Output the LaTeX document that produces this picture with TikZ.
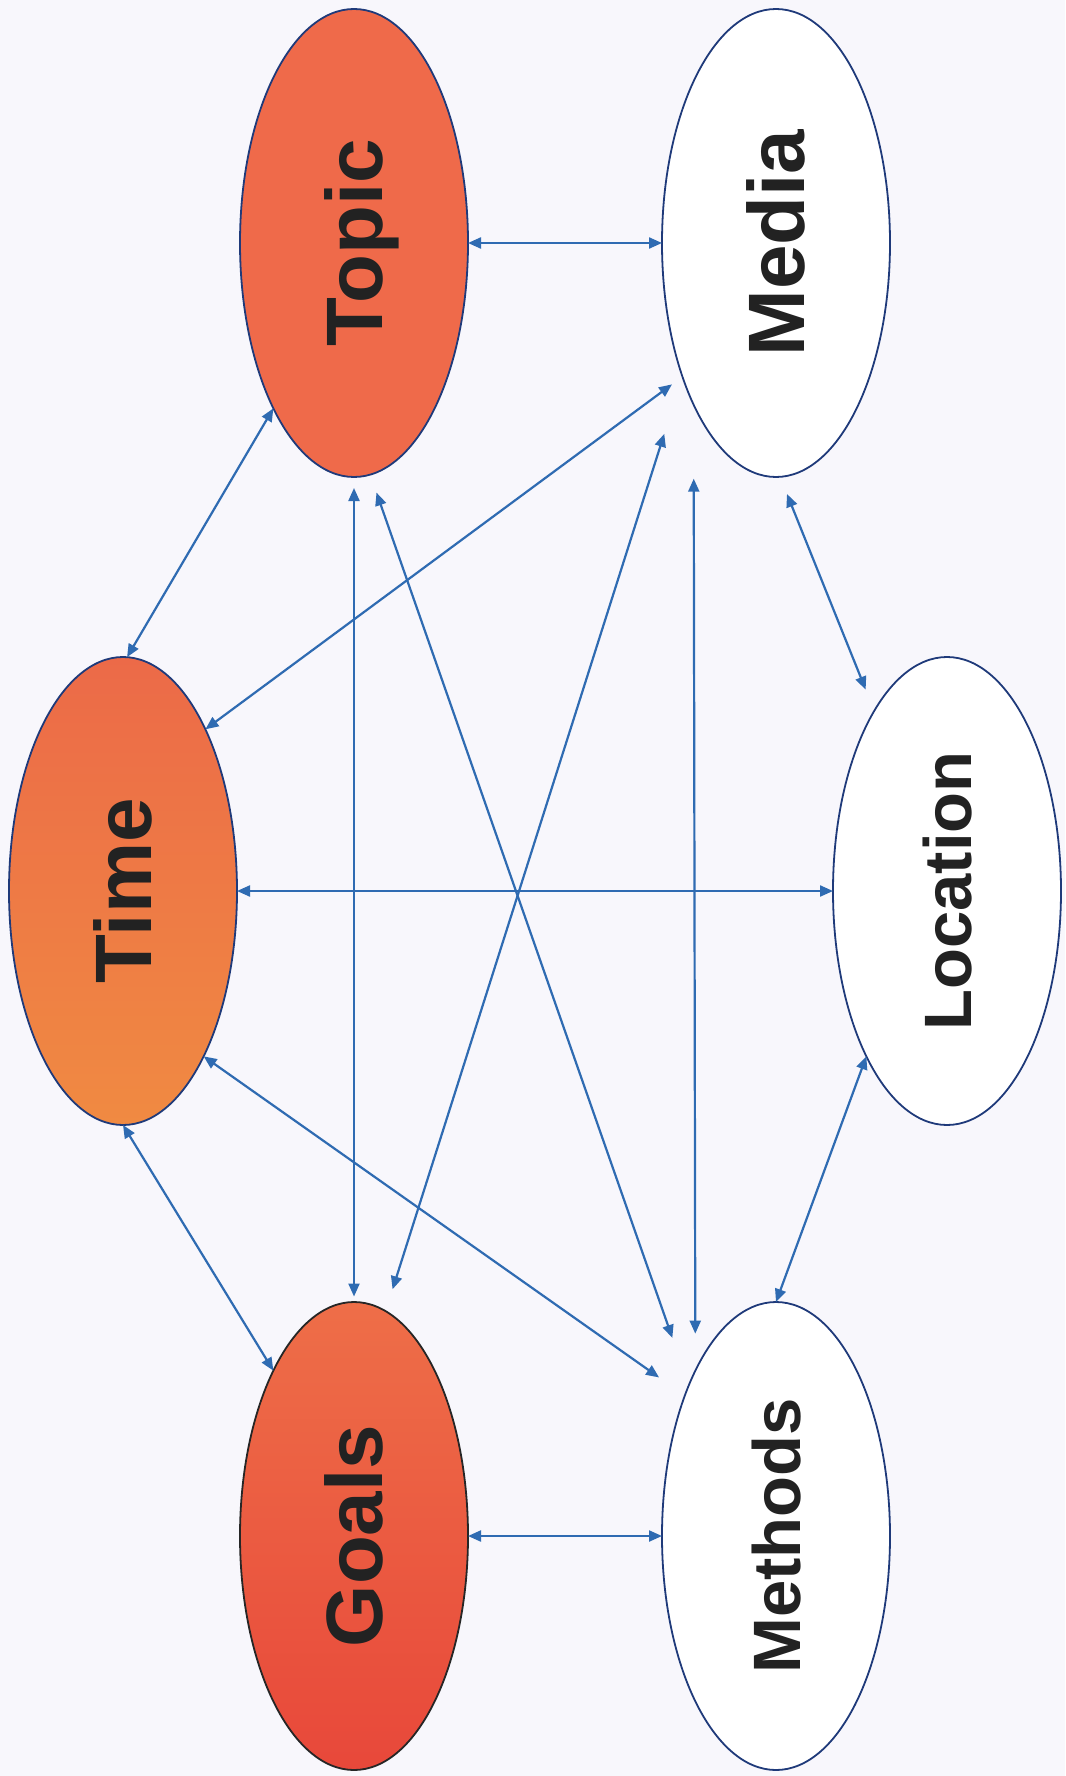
\documentclass[tikz,border=0pt]{standalone}
\usepackage{fontspec}
\setmainfont{Liberation Sans}
\usetikzlibrary{shapes.geometric,arrows.meta}
\definecolor{bgc}{HTML}{F8F7FC}
\definecolor{edgeblue}{HTML}{2F6BB2}
\definecolor{navy}{HTML}{1F3A7A}
\definecolor{topicfill}{HTML}{EF6A4A}
\definecolor{timetop}{HTML}{EC6A48}
\definecolor{timebot}{HTML}{F08A42}
\definecolor{goalstop}{HTML}{EE6E48}
\definecolor{goalsbot}{HTML}{E8483A}
\definecolor{txt}{HTML}{222222}
\tikzset{
  ell/.style={ellipse, minimum width=228pt, minimum height=468pt, inner sep=0pt, outer sep=0pt, line width=1.8pt},
  lblbig/.style={rotate=90, inner sep=0pt, text=txt, font=\bfseries\fontsize{80}{80}\selectfont, text height=57.3pt, text depth=0pt},
  lblsmall/.style={rotate=90, inner sep=0pt, text=txt, font=\bfseries\fontsize{67}{67}\selectfont, text height=48pt, text depth=0pt},
  link/.style={draw=edgeblue, line width=2.2pt, {Triangle[length=13pt,width=11pt]}-{Triangle[length=13pt,width=11pt]}}
}
\begin{document}
\begin{tikzpicture}[x=1pt, y=-1pt]
\fill[bgc] (0,0) rectangle (1065,1776);
\useasboundingbox (0,0) rectangle (1065,1776);
% ellipses
\node[ell, draw=navy, fill=topicfill] (topic) at (354,243) {};
\node[ell, draw=navy, fill=white] (media) at (776,243) {};
\node[ell, draw=navy, top color=timetop, bottom color=timebot] (time) at (123,891) {};
\node[ell, draw=navy, fill=white] (location) at (947,891) {};
\node[ell, draw=black!85, top color=goalstop, bottom color=goalsbot] (goals) at (354,1536) {};
\node[ell, draw=navy, fill=white] (methods) at (776,1536) {};
% labels
\node[lblbig] (topic-l) at (topic.center) {Topic};
\node[lblbig] (media-l) at (media.center) {Media};
\node[lblbig] (time-l) at (time.center) {Time};
\node[lblsmall] (location-l) at (location.center) {Location};
\node[lblbig] (goals-l) at (goals.center) {Goals};
\node[lblsmall] (methods-l) at (methods.center) {Methods};
% connectors
\draw[link] (topic.east) -- (media.west);
\draw[link] (topic.244) -- (time.89);
\draw[link, shorten <=13pt] (media.235.6) -- (time.63.6);
\draw[link, shorten <=11pt, shorten >=5.5pt] (topic.south) -- (goals.north);
\draw[link, shorten <=19pt, shorten >=50pt] (topic.274.5) -- (methods.120.1);
\draw[link, shorten <=60pt, shorten >=23pt] (media.235.2) -- (goals.82);
\draw[link, shorten <=74pt, shorten >=37pt] (media.243.4) -- (methods.116.8);
\draw[link, shorten <=18.5pt, shorten >=23pt] (media.271.7) -- (location.112.5);
\draw[link] (time.east) -- (location.west);
\draw[link] (time.270.7) -- (goals.116.9);
\draw[link, shorten >=31.5pt] (time.296.5) -- (methods.123.1);
\draw[link] (location.244.3) -- (methods.north);
\draw[link] (goals.east) -- (methods.west);
\end{tikzpicture}
\end{document}
